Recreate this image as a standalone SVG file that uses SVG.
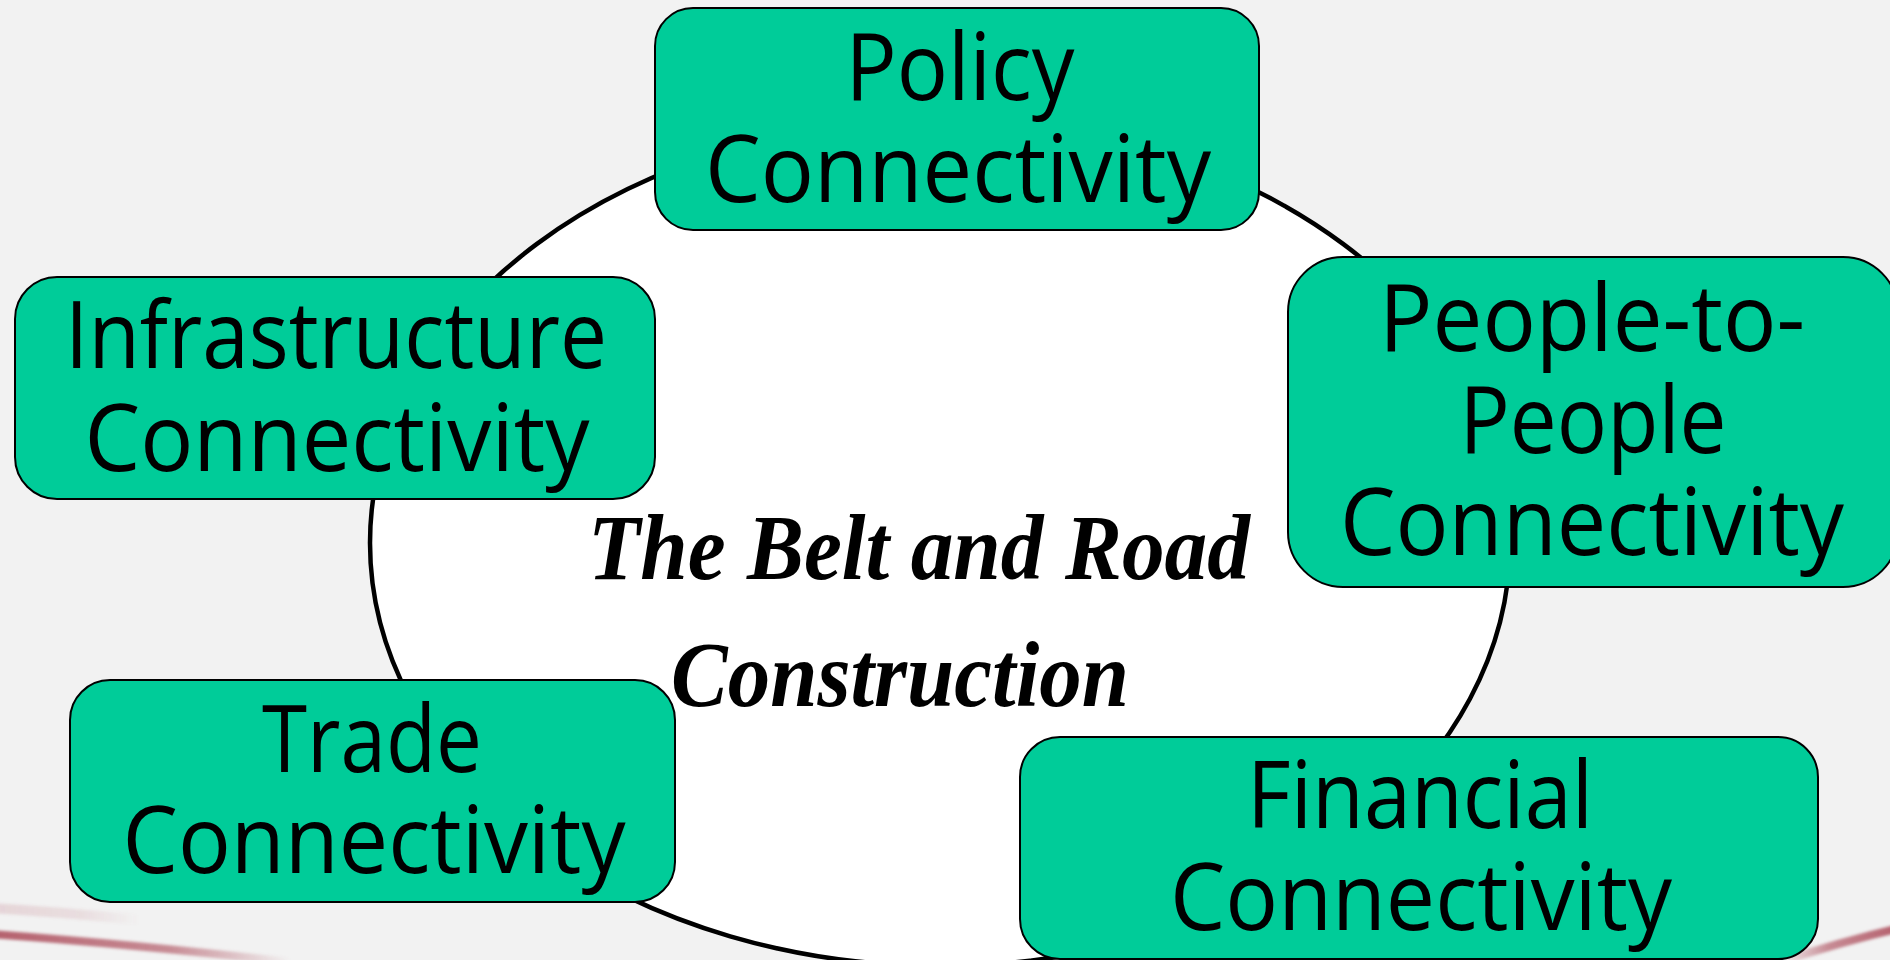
<svg xmlns="http://www.w3.org/2000/svg" width="1890" height="960" viewBox="0 0 1890 960">
  <defs>
    <style>
      .box { fill: #00CC99; stroke: #000000; stroke-width: 2; }
      .lbl { font-family: "Open Sans", "Noto Sans", "Liberation Sans", sans-serif; font-size: 93px; fill: #000000; text-anchor: middle; }
      .title { font-family: "Liberation Serif", "DejaVu Serif", serif; font-style: italic; font-weight: bold; font-size: 94px; fill: #000000; text-anchor: middle; }
      .hub { fill: #FFFFFF; stroke: #000000; stroke-width: 4.5; }
    </style>
    <filter id="soft" x="-10%" y="-50%" width="120%" height="200%">
      <feGaussianBlur stdDeviation="1.5"/>
    </filter>
    <linearGradient id="fadeL" x1="0" y1="0" x2="1" y2="0">
      <stop offset="0" stop-color="#B45F6C" stop-opacity="1"/>
      <stop offset="0.6" stop-color="#B45F6C" stop-opacity="0.7"/>
      <stop offset="1" stop-color="#B45F6C" stop-opacity="0"/>
    </linearGradient>
    <linearGradient id="fadeR" x1="1" y1="0" x2="0" y2="0">
      <stop offset="0" stop-color="#B45F6C" stop-opacity="1"/>
      <stop offset="0.6" stop-color="#B45F6C" stop-opacity="0.7"/>
      <stop offset="1" stop-color="#B45F6C" stop-opacity="0"/>
    </linearGradient>
  </defs>

  <!-- slide background -->
  <rect x="0" y="0" width="1890" height="960" fill="#F2F2F2"/>

  <!-- decorative swooshes along the bottom edge -->
  <g id="decor" filter="url(#soft)">
    <path d="M -10 934 Q 130 944 290 962" fill="none" stroke="url(#fadeL)" stroke-width="8"/>
    <path d="M -10 908 Q 60 912 140 920" fill="none" stroke="url(#fadeL)" stroke-width="10" opacity="0.2"/>
    <path d="M 1900 928 Q 1840 942 1780 962" fill="none" stroke="url(#fadeR)" stroke-width="8"/>
  </g>

  <!-- central hub -->
  <g id="hub">
    <ellipse class="hub" cx="940" cy="543" rx="570" ry="423"/>
    <text class="title" x="919" y="579" textLength="662" lengthAdjust="spacingAndGlyphs">The Belt and Road</text>
    <text class="title" x="900" y="706" textLength="458" lengthAdjust="spacingAndGlyphs">Construction</text>
  </g>

  <!-- no separate connectors: the ring itself links the pillars -->
  <g id="connectors"></g>

  <g id="policy">
    <rect class="box" x="655" y="8" width="604" height="222" rx="38" ry="38"/>
    <text class="lbl" x="960" y="100" textLength="229" lengthAdjust="spacingAndGlyphs">Policy</text>
    <text class="lbl" x="958" y="202" textLength="506" lengthAdjust="spacingAndGlyphs">Connectivity</text>
  </g>

  <g id="infrastructure">
    <rect class="box" x="15" y="277" width="640" height="222" rx="42" ry="42"/>
    <text class="lbl" x="336" y="368" textLength="542" lengthAdjust="spacingAndGlyphs">Infrastructure</text>
    <text class="lbl" x="337" y="471" textLength="505" lengthAdjust="spacingAndGlyphs">Connectivity</text>
  </g>

  <g id="people">
    <rect class="box" x="1288" y="257" width="610" height="330" rx="55" ry="55"/>
    <text class="lbl" x="1592" y="351" textLength="426" lengthAdjust="spacingAndGlyphs">People-to-</text>
    <text class="lbl" x="1593" y="453" textLength="267" lengthAdjust="spacingAndGlyphs">People</text>
    <text class="lbl" x="1592" y="555" textLength="504" lengthAdjust="spacingAndGlyphs">Connectivity</text>
  </g>

  <g id="trade">
    <rect class="box" x="70" y="680" width="605" height="222" rx="40" ry="40"/>
    <text class="lbl" x="372" y="772" textLength="220" lengthAdjust="spacingAndGlyphs">Trade</text>
    <text class="lbl" x="374" y="873" textLength="503" lengthAdjust="spacingAndGlyphs">Connectivity</text>
  </g>

  <g id="financial">
    <rect class="box" x="1020" y="737" width="798" height="222" rx="40" ry="40"/>
    <text class="lbl" x="1420" y="828" textLength="346" lengthAdjust="spacingAndGlyphs">Financial</text>
    <text class="lbl" x="1421" y="930" textLength="502" lengthAdjust="spacingAndGlyphs">Connectivity</text>
  </g>
</svg>
